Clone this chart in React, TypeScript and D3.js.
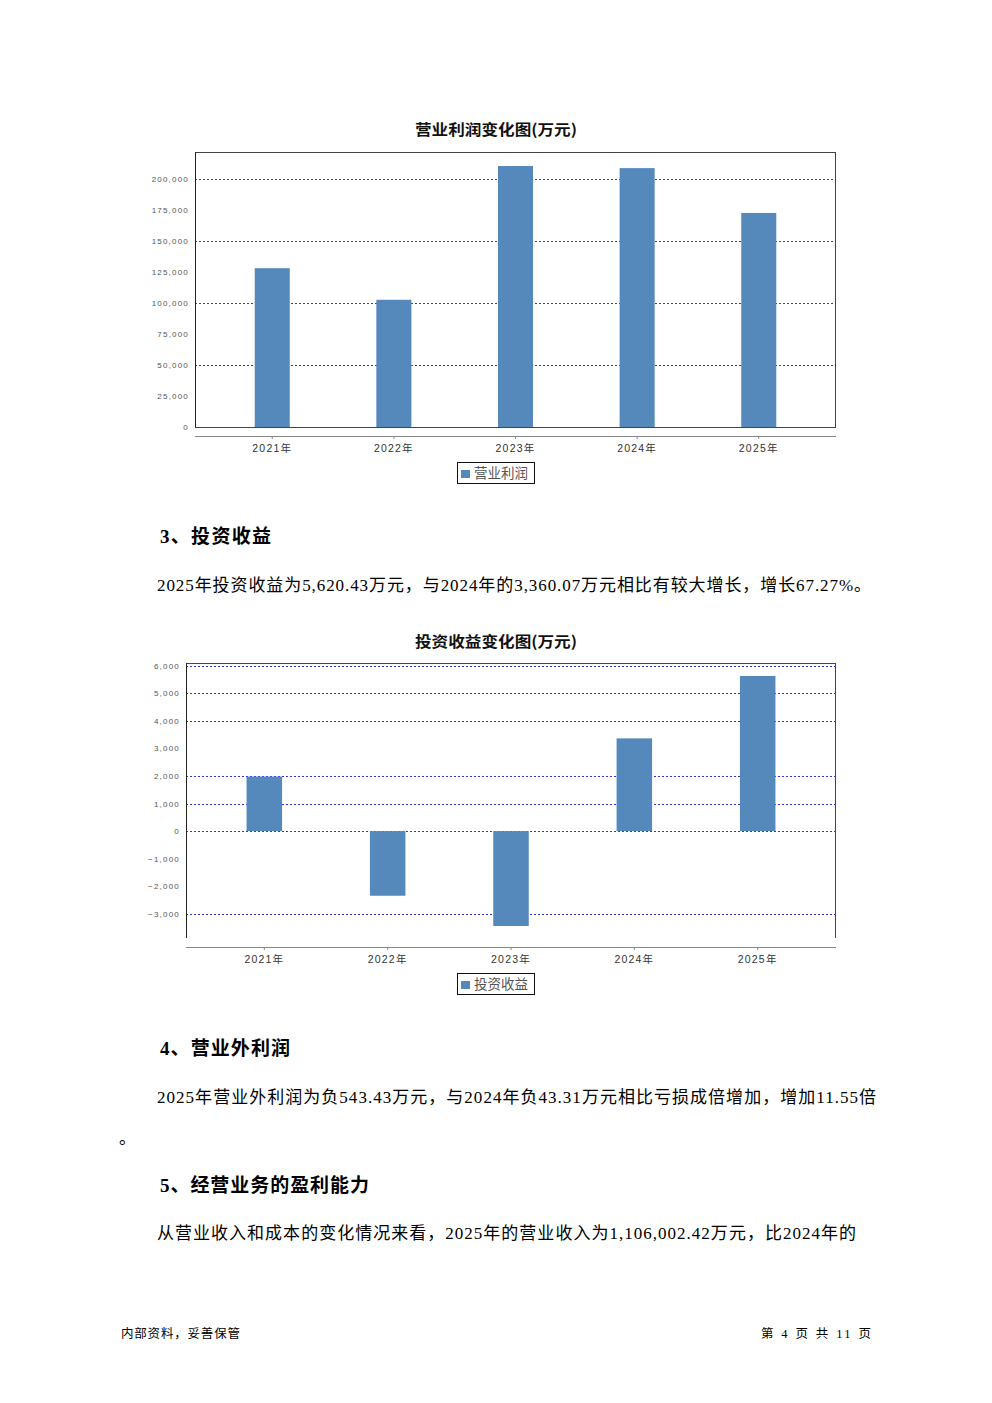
import React from "react";
import * as d3 from "d3";

const years = ["2021年", "2022年", "2023年", "2024年", "2025年"];
const operatingProfit = [128200, 102700, 210700, 209000, 172800];
const investmentIncome = [1975, -2342, -3438, 3360.07, 5620.43];

const profitTicks = [0, 25000, 50000, 75000, 100000, 125000, 150000, 175000, 200000];
const profitGrid = [50000, 100000, 150000, 200000];
const incomeTicks = [-3000, -2000, -1000, 0, 1000, 2000, 3000, 4000, 5000, 6000];
const incomeGrid = [-3000, 0, 1000, 2000, 4000, 5000, 6000];

const BAR = "#5589bb";
const GRID = "#2f2ff0";
const CHART_FONT = "'Liberation Sans', Arial, 'Noto Sans CJK SC', sans-serif";
const TEXT_FONT = "'Liberation Serif', 'Times New Roman', 'Noto Sans CJK SC', serif";
const HEAD_FONT = "'Liberation Serif', 'Times New Roman', 'Noto Sans CJK SC', serif";

type ChartProps = {
  title: string;
  legend: string;
  values: number[];
  domain: [number, number];
  ticks: number[];
  grid: number[];
  left: number;
  right: number;
  top: number;
  bottom: number;
  titleY: number;
  axisY: number;
  drawBottomFrame: boolean;
};

function BarChart(p: ChartProps) {
  const x = d3
    .scaleBand<string>()
    .domain(years)
    .range([p.left, p.right])
    .paddingInner(0.712)
    .paddingOuter(0.491);
  const y = d3.scaleLinear().domain(p.domain).range([p.bottom, p.top]);
  const fmt = d3.format(",");
  const titleX = 496;
  const legendW = 77;
  const legendX = 457;
  const legendY = p.axisY + 26;
  return (
    <g>
      <text
        x={titleX}
        y={p.titleY}
        textAnchor="middle"
        fontFamily="'Noto Sans CJK SC', sans-serif"
        fontWeight="bold"
        fontSize={15}
        fill="#111"
        textLength={162}
        lengthAdjust="spacingAndGlyphs"
      >
        {p.title}
      </text>
      {/* gridlines */}
      {p.grid.map((g) => (
        <line
          key={"g" + g}
          x1={p.left}
          x2={p.right}
          y1={Math.round(y(g)) + 0.5}
          y2={Math.round(y(g)) + 0.5}
          stroke={GRID}
          strokeWidth={1}
          strokeDasharray="2,2"
        />
      ))}
      {/* bars */}
      {p.values.map((v, i) => {
        const y0 = y(0);
        const y1 = y(v);
        return (
          <rect
            key={"b" + i}
            x={x(years[i])!}
            y={Math.min(y0, y1)}
            width={x.bandwidth()}
            height={Math.abs(y1 - y0)}
            fill={BAR}
          />
        );
      })}
      {/* frame */}
      <line x1={p.left} x2={p.right} y1={p.top + 0.5} y2={p.top + 0.5} stroke="#444" />
      <line x1={p.right - 0.5} x2={p.right - 0.5} y1={p.top} y2={p.bottom} stroke="#444" />
      <line x1={p.left + 0.5} x2={p.left + 0.5} y1={p.top} y2={p.bottom} stroke="#222" />
      {p.drawBottomFrame && (
        <line x1={p.left} x2={p.right} y1={p.bottom + 0.5} y2={p.bottom + 0.5} stroke="#444" />
      )}
      {/* y tick labels */}
      {p.ticks.map((t) => (
        <text
          key={"t" + t}
          x={p.left - 6}
          y={y(t) + 3}
          textAnchor="end"
          fontFamily={CHART_FONT}
          fontSize={8}
          letterSpacing={1.2}
          fill="#555"
        >
          {fmt(t)}
        </text>
      ))}
      {/* category axis */}
      <line x1={p.left} x2={p.right} y1={p.axisY + 0.5} y2={p.axisY + 0.5} stroke="#888" strokeWidth={1.2} />
      {years.map((c) => {
        const xc = x(c)! + x.bandwidth() / 2;
        return (
          <g key={"c" + c}>
            <line x1={xc} x2={xc} y1={p.axisY} y2={p.axisY + 3} stroke="#888" />
            <text
              x={xc}
              y={p.axisY + 16}
              textAnchor="middle"
              fontFamily={CHART_FONT}
              fontSize={10.5}
              letterSpacing={1.2}
              fill="#333"
            >
              {c}
            </text>
          </g>
        );
      })}
      {/* legend */}
      <rect x={legendX + 0.5} y={legendY + 0.5} width={legendW} height={21} fill="#fff" stroke="#111" strokeWidth={1} />
      <rect x={legendX + 4} y={legendY + 8} width={9} height={8} fill={BAR} />
      <text
        x={legendX + 17}
        y={legendY + 16}
        fontFamily="'Noto Sans CJK SC', sans-serif"
        fontSize={13.5}
        fill="#555"
      >
        {p.legend}
      </text>
    </g>
  );
}

type Line = { text: string; x: number; y: number; width: number; size: number; bold?: boolean };

const bodyLines: Line[] = [
  { text: "3、投资收益", x: 160, y: 543, width: 111, size: 19, bold: true },
  {
    text: "2025年投资收益为5,620.43万元，与2024年的3,360.07万元相比有较大增长，增长67.27%。",
    x: 157,
    y: 591,
    width: 714,
    size: 17,
  },
  { text: "4、营业外利润", x: 160, y: 1055, width: 130, size: 19, bold: true },
  {
    text: "2025年营业外利润为负543.43万元，与2024年负43.31万元相比亏损成倍增加，增加11.55倍",
    x: 157,
    y: 1103,
    width: 719,
    size: 17,
  },
  { text: "。", x: 119, y: 1144, width: 12, size: 17 },
  { text: "5、经营业务的盈利能力", x: 160, y: 1192, width: 209, size: 19, bold: true },
  {
    text: "从营业收入和成本的变化情况来看，2025年的营业收入为1,106,002.42万元，比2024年的",
    x: 157,
    y: 1239,
    width: 699,
    size: 17,
  },
  { text: "内部资料，妥善保管", x: 121, y: 1338, width: 119, size: 12.5 },
  { text: "第 4 页  共 11 页", x: 761, y: 1338, width: 110, size: 12.5 },
];

export default function App() {
  return (
    <svg
      width={992}
      height={1403}
      viewBox="0 0 992 1403"
      style={{ position: "absolute", left: 0, top: 0, display: "block", background: "#fff" }}
    >
      <rect x={0} y={0} width={992} height={1403} fill="#fff" />
      <BarChart
        title="营业利润变化图(万元)"
        legend="营业利润"
        values={operatingProfit}
        domain={[0, 222000]}
        ticks={profitTicks}
        grid={profitGrid}
        left={195}
        right={836}
        top={152}
        bottom={427}
        titleY={135}
        axisY={436}
        drawBottomFrame={true}
      />
      <BarChart
        title="投资收益变化图(万元)"
        legend="投资收益"
        values={investmentIncome}
        domain={[-3873, 6091]}
        ticks={incomeTicks}
        grid={incomeGrid}
        left={186}
        right={836}
        top={663}
        bottom={938}
        titleY={647}
        axisY={947}
        drawBottomFrame={false}
      />
      {bodyLines.map((l, i) => (
        <text
          key={i}
          x={l.x}
          y={l.y}
          fontFamily={l.bold ? HEAD_FONT : TEXT_FONT}
          fontWeight={l.bold ? "bold" : "normal"}
          fontSize={l.size}
          fill="#000"
          textLength={l.width}
          lengthAdjust="spacing"
        >
          {l.text}
        </text>
      ))}
    </svg>
  );
}
